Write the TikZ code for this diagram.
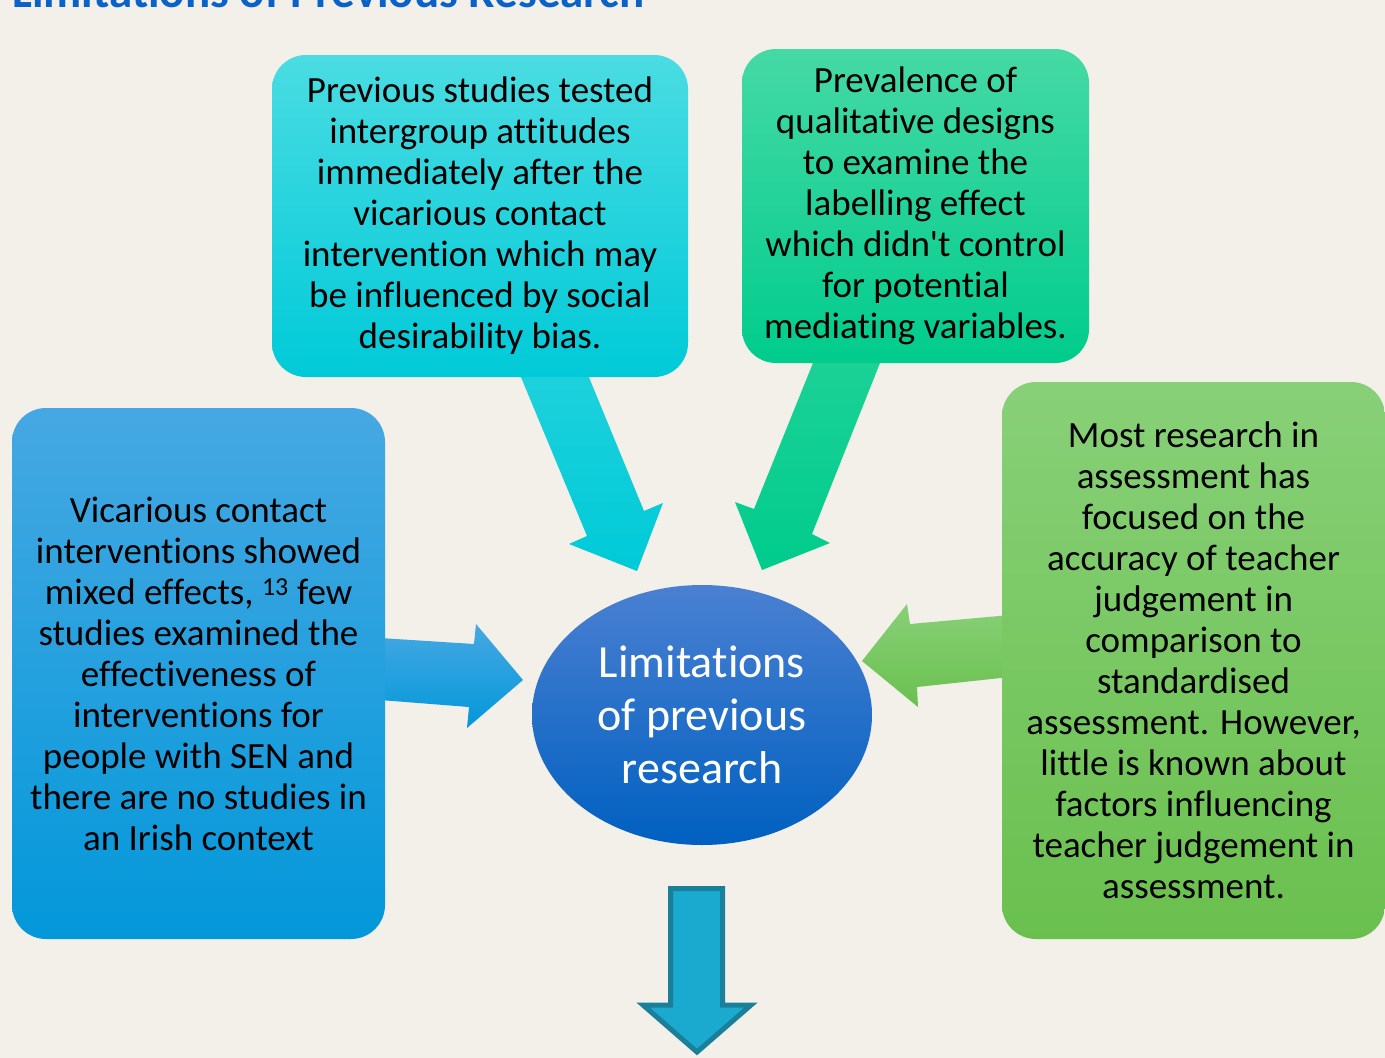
\documentclass[tikz,border=0pt]{standalone}
\usepackage{fontspec}
\setmainfont{Carlito}[Ligatures={NoCommon}]
\usetikzlibrary{shapes.geometric}
\definecolor{bg}{HTML}{F3F0E9}
\definecolor{titleblue}{HTML}{0A62C8}
\definecolor{cyanT}{HTML}{4ADCE2}
\definecolor{cyanB}{HTML}{00CAD8}
\definecolor{tealT}{HTML}{45D9A5}
\definecolor{tealB}{HTML}{00CC8C}
\definecolor{blueT}{HTML}{46A8E2}
\definecolor{blueB}{HTML}{0398DA}
\definecolor{greenT}{HTML}{88D078}
\definecolor{greenB}{HTML}{6AC04E}
\definecolor{ovalT}{HTML}{4A80D2}
\definecolor{ovalB}{HTML}{0060C0}
\definecolor{downFill}{HTML}{1AAACF}
\definecolor{downEdge}{HTML}{1A7F99}
\begin{document}
\begin{tikzpicture}[x=1pt,y=-1pt,
  box/.style={rounded corners=34pt, inner sep=0pt, align=center,
    font=\fontsize{37}{41}\selectfont, text=black},
  blockarrow/.style={draw=none}]
\useasboundingbox[fill=bg] (0,0) rectangle (1385,1058);

% heading (runs off the top edge)
\node[anchor=base west, inner sep=0pt, text=titleblue,
  font=\fontsize{47}{54}\selectfont\bfseries] (title) at (12,7)
  {Limitations of Previous Research};

% block arrows pointing to the centre
\shade[blockarrow, top color=cyanT!40!cyanB, bottom color=cyanB]
  (518,370) -- (586,370) -- (644,511) -- (663,503) -- (637,571)
  -- (569,544) -- (587,536) -- cycle;
\shade[blockarrow, top color=tealT!40!tealB, bottom color=tealB]
  (815,358) -- (882,358) -- (812,534) -- (830,543) -- (762,570)
  -- (735,502) -- (754,509) -- cycle;
\shade[blockarrow, top color=blueT, bottom color=blueB]
  (380,638) -- (474,644) -- (476,624) -- (523,680) -- (467,728)
  -- (469,707) -- (380,700) -- cycle;
\shade[blockarrow, top color=greenT, bottom color=greenB]
  (1010,615) -- (910,624) -- (907,604) -- (862,661) -- (918,707)
  -- (917,687) -- (1010,677) -- cycle;

% surrounding boxes
\node[box, top color=cyanT, bottom color=cyanB,
  minimum width=416pt, minimum height=322pt] (tl) at (480,216)
  {Previous studies tested\\intergroup attitudes\\immediately after the\\vicarious contact\\intervention which may\\be influenced by social\\desirability bias.};
\node[box, top color=tealT, bottom color=tealB,
  minimum width=347pt, minimum height=314pt] (tr) at (915.5,206)
  {Prevalence of\\qualitative designs\\to examine the\\labelling effect\\which didn\textquotesingle t control\\for potential\\mediating variables.};
\node[box, top color=blueT, bottom color=blueB,
  minimum width=373pt, minimum height=531pt] (lf) at (198.5,673.5)
  {Vicarious contact\\interventions showed\\mixed effects, \textsuperscript{13} few\\studies examined the\\effectiveness of\\interventions for\\people with SEN and\\there are no studies in\\an Irish context};
\node[box, top color=greenT, bottom color=greenB,
  minimum width=383pt, minimum height=557pt] (rt) at (1193.5,660.5)
  {Most research in\\assessment has\\focused on the\\accuracy of teacher\\judgement in\\comparison to\\standardised\\assessment. However,\\little is known about\\factors influencing\\teacher judgement in\\assessment.};

% central ellipse
\node[ellipse, inner sep=0pt, minimum width=340pt, minimum height=260pt,
  top color=ovalT, bottom color=ovalB, text=white, align=center,
  font=\fontsize{46}{53}\selectfont] (centre) at (702,715)
  {Limitations\\of previous\\research};

% outgoing arrow below the ellipse
\draw[fill=downFill, draw=downEdge, line width=5pt, miter limit=10]
  (670.5,888.5) -- (722.5,888.5) -- (722.5,1005) -- (751,1005)
  -- (697,1052) -- (643,1005) -- (670.5,1005) -- cycle;
\end{tikzpicture}
\end{document}
